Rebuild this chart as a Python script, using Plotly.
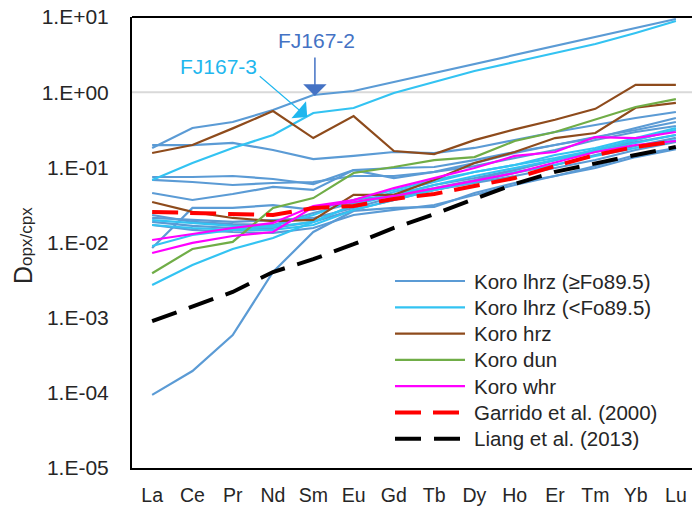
import plotly.graph_objects as go

ree = ["La", "Ce", "Pr", "Nd", "Sm", "Eu", "Gd", "Tb", "Dy", "Ho", "Er", "Tm", "Yb", "Lu"]
ytick_vals = [1e-5, 1e-4, 1e-3, 1e-2, 1e-1, 1e0, 1e1]
ytick_text = ["1.E-05", "1.E-04", "1.E-03", "1.E-02", "1.E-01", "1.E+00", "1.E+01"]

# Koro lhrz (>=Fo89.5)
fj167_2 = [0.181, 0.334, 0.401, 0.579, 0.917, 1.036, 1.366, 1.80, 2.37, 3.12, 4.11, 5.42, 7.14, 9.41]
hi_b2 = [0.000094, 0.000195, 0.000588, 0.00405, 0.0138, 0.0263, 0.0288, 0.0297, 0.0456, 0.0619, 0.0767, 0.098, 0.137, 0.175]
hi_b3 = [0.198, 0.198, 0.211, 0.170, 0.129, 0.142, 0.160, 0.155, 0.181, 0.231, 0.295, 0.366, 0.453, 0.545]
hi_b5 = [0.0744, 0.0744, 0.0767, 0.070, 0.060, 0.092, 0.098, 0.101, 0.125, 0.160, 0.198, 0.246, 0.334, 0.453]
hi_b6 = [0.0456, 0.0368, 0.0442, 0.0548, 0.050, 0.092, 0.072, 0.087, 0.114, 0.155, 0.198, 0.253, 0.314, 0.401]
hi_b7 = [0.0232, 0.0188, 0.0176, 0.0171, 0.0247, 0.0335, 0.0429, 0.0582, 0.0721, 0.0922, 0.125, 0.170, 0.231, 0.314]
hi_b8 = [0.0212, 0.0199, 0.0188, 0.0199, 0.0212, 0.0288, 0.0403, 0.050, 0.0638, 0.0841, 0.1075, 0.146, 0.192, 0.246]
hi_b9 = [0.00845, 0.0288, 0.0288, 0.0315, 0.0271, 0.0368, 0.0429, 0.0531, 0.0679, 0.0922, 0.125, 0.170, 0.217, 0.269]
hi_b10 = [0.0188, 0.0166, 0.0156, 0.0156, 0.0188, 0.0271, 0.0368, 0.050, 0.0619, 0.0767, 0.098, 0.125, 0.170, 0.217]
hi_b11 = [0.0679, 0.0638, 0.0582, 0.0619, 0.0638, 0.0767, 0.0767, 0.0867, 0.104, 0.133, 0.170, 0.231, 0.295, 0.355]
hi_b12 = [0.0171, 0.0147, 0.0138, 0.0134, 0.0156, 0.0232, 0.0271, 0.0315, 0.0429, 0.0582, 0.0767, 0.104, 0.146, 0.181]

# Koro lhrz (<Fo89.5)
fj167_3 = [0.0679, 0.114, 0.181, 0.269, 0.528, 0.616, 0.975, 1.366, 1.91, 2.52, 3.32, 4.37, 6.13, 8.85]
lo_c2 = [0.00272, 0.00502, 0.0082, 0.0115, 0.0188, 0.0315, 0.047, 0.0638, 0.0867, 0.1075, 0.133, 0.170, 0.231, 0.314]
lo_c3 = [0.00899, 0.0126, 0.0147, 0.0166, 0.0232, 0.0368, 0.050, 0.0679, 0.0867, 0.1075, 0.146, 0.181, 0.246, 0.334]
lo_c4 = [0.0199, 0.0182, 0.0166, 0.0161, 0.0188, 0.0315, 0.0429, 0.0582, 0.0767, 0.098, 0.125, 0.160, 0.211, 0.269]
lo_c5 = [0.0171, 0.0156, 0.0147, 0.0147, 0.0171, 0.0271, 0.0368, 0.050, 0.0638, 0.0867, 0.1075, 0.1415, 0.181, 0.231]

# Koro hrz
hrz_1 = [0.155, 0.198, 0.33, 0.56, 0.245, 0.48, 0.165, 0.15, 0.23, 0.32, 0.43, 0.60, 1.25, 1.25]
hrz_2 = [0.0346, 0.0255, 0.0212, 0.0193, 0.020, 0.043, 0.043, 0.068, 0.114, 0.16, 0.245, 0.286, 0.62, 0.72]

# Koro dun
dun_1 = [0.0039, 0.0082, 0.0102, 0.0288, 0.039, 0.084, 0.101, 0.125, 0.137, 0.224, 0.295, 0.43, 0.635, 0.81]

# Koro whr
whr_1 = [0.0108, 0.013, 0.0156, 0.0182, 0.0306, 0.0368, 0.053, 0.072, 0.098, 0.142, 0.16, 0.253, 0.245, 0.295]
whr_2 = [0.00725, 0.0099, 0.0122, 0.0138, 0.0297, 0.0346, 0.0416, 0.053, 0.066, 0.084, 0.115, 0.16, 0.198, 0.224]

# Reference models
garrido_2000 = [0.0255, 0.0247, 0.0239, 0.0232, 0.0288, 0.0306, 0.038, 0.0442, 0.0565, 0.072, 0.104, 0.146, 0.187, 0.224]
liang_2013 = [0.0009, 0.00143, 0.0022, 0.00405, 0.006, 0.0095, 0.0156, 0.0239, 0.038, 0.060, 0.087, 0.114, 0.146, 0.187]

BLUE = "#5B9BD5"
CYAN = "#33C3F2"
BROWN = "#8E4B1C"
GREEN = "#70AD47"
MAGENTA = "#FF00FF"
RED = "#FF0000"
BLACK = "#000000"
FONT = "Liberation Sans, Arial, sans-serif"
TXT = "#262626"

groups = [
    ("Koro lhrz (≥Fo89.5)", BLUE, 2.2, "solid",
     [hi_b2, hi_b3, hi_b5, hi_b6, hi_b7, hi_b8, hi_b9, hi_b10, hi_b11, hi_b12, fj167_2]),
    ("Koro lhrz (<Fo89.5)", CYAN, 2.2, "solid", [lo_c2, lo_c3, lo_c4, lo_c5, fj167_3]),
    ("Koro hrz", BROWN, 2.2, "solid", [hrz_1, hrz_2]),
    ("Koro dun", GREEN, 2.2, "solid", [dun_1]),
    ("Koro whr", MAGENTA, 2.2, "solid", [whr_1, whr_2]),
    ("Garrido et al. (2000)", RED, 4, "26px,12px", [garrido_2000]),
    ("Liang et al. (2013)", BLACK, 4, "26px,13px", [liang_2013]),
]

fig = go.Figure()
xs = list(range(len(ree)))
for name, color, width, dash, series in groups:
    for s in series:
        fig.add_trace(go.Scatter(x=xs, y=s, mode="lines", name=name, showlegend=False,
                                 line=dict(color=color, width=width, dash=dash)))

# plot-area geometry (pixels) used for paper-coordinate helpers
L, R, T, B = 132, 692, 17, 468
def px(xp):
    return (xp - L) / (R - L)
def py(yp):
    return (B - yp) / (B - T)

shapes = [
    # gridline at 1.E+00
    dict(type="line", xref="paper", yref="paper", x0=0, x1=1, y0=5/6, y1=5/6,
         line=dict(color="#D9D9D9", width=2), layer="below"),
    # top border
    dict(type="line", xref="paper", yref="paper", x0=0, x1=1, y0=1, y1=1,
         line=dict(color="black", width=2)),
]

annotations = []
# manual legend
for i, (name, color, width, dash, series) in enumerate(groups):
    yl = 281 + 26.3 * i
    shapes.append(dict(type="line", xref="paper", yref="paper",
                       x0=px(395), x1=px(465), y0=py(yl), y1=py(yl),
                       line=dict(color=color, width=width if dash == "solid" else 4,
                                 dash=dash)))
    annotations.append(dict(xref="paper", yref="paper", x=px(472), y=py(yl),
                            xanchor="left", yanchor="middle", showarrow=False,
                            text=name, font=dict(family=FONT, size=20.5, color=TXT)))

# FJ labels and arrows (log axis -> annotation y in log10 units)
annotations += [
    dict(x=4.07, y=0.694, text="FJ167-2", showarrow=False,
         font=dict(family=FONT, size=21, color="#4472C4")),
    dict(x=4.04, y=-0.05, text="", showarrow=True, ax=0, ay=-40,
         arrowhead=1, arrowsize=2.6, arrowwidth=1.5, arrowcolor="#4472C4"),
    dict(x=1.64, y=0.348, text="FJ167-3", showarrow=False,
         font=dict(family=FONT, size=21, color="#1FB7EE")),
    dict(x=3.85, y=-0.33, text="", showarrow=True, ax=-49, ay=-42,
         arrowhead=1, arrowsize=3.4, arrowwidth=1.1, arrowcolor="#1FB7EE"),
    # y-axis title
    dict(xref="paper", yref="paper", x=px(23), y=py(246), textangle=-90,
         xanchor="center", yanchor="middle", showarrow=False,
         text="D<span style='font-size:17px'>opx/cpx</span>",
         font=dict(family=FONT, size=25, color=TXT)),
]

fig.update_layout(
    width=692, height=508,
    margin=dict(l=L, r=692 - R, t=T, b=508 - B),
    paper_bgcolor="white", plot_bgcolor="white",
    showlegend=False,
    shapes=shapes, annotations=annotations,
    font=dict(family=FONT, color=TXT),
    xaxis=dict(tickmode="array", tickvals=xs, ticktext=ree, range=[-0.5, 13.4],
               showgrid=False, zeroline=False, showline=True, linecolor="black",
               linewidth=2, ticks="", tickfont=dict(family=FONT, size=19.5, color=TXT),
               ticklabelstandoff=9),
    yaxis=dict(type="log", range=[-5, 1], tickmode="array", tickvals=ytick_vals,
               ticktext=ytick_text, showgrid=False, zeroline=False, showline=True,
               linecolor="black", linewidth=2, ticks="",
               tickfont=dict(family=FONT, size=21, color=TXT), ticklabelstandoff=17),
)

fig.write_html("out.html")
